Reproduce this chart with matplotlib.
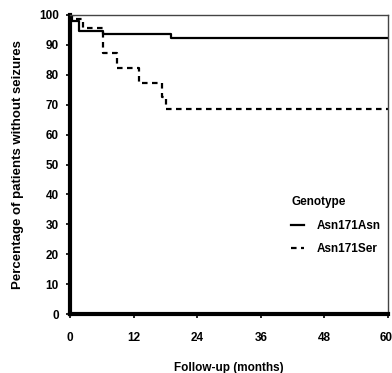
import matplotlib.pyplot as plt
import matplotlib.transforms as mtransforms
import numpy as np

plt.rcParams['font.family'] = ['Liberation Sans Narrow', 'Liberation Sans', 'DejaVu Sans']

# Kaplan-Meier style step data (months, % without seizures)
asn_t = [0, 0.4, 1.7, 6.2, 19.0, 60]
asn_pct = [100, 98.0, 94.6, 93.5, 92.2, 92.2]

ser_t = [0, 1.0, 2.5, 6.2, 8.9, 13.0, 17.3, 18.2, 60]
ser_pct = [100, 98.5, 95.8, 87.2, 82.4, 77.4, 72.7, 68.5, 68.5]

x_ticks = [0, 12, 24, 36, 48, 60]
y_ticks = list(range(0, 101, 10))

fig = plt.figure(figsize=(3.92, 3.73), dpi=100)
ax = fig.add_axes([0.1786, 0.158, 0.8112, 0.8018])

ax.step(asn_t, asn_pct, where="post", color="black", linewidth=1.6, label="Asn171Asn")
ax.step(ser_t, ser_pct, where="post", color="black", linewidth=1.6,
        linestyle=(0, (2.5, 2)), label="Asn171Ser")

ax.set_xlim(0, 60)
ax.set_ylim(0, 100)
ax.set_xticks(x_ticks)
ax.set_yticks(y_ticks)
ax.tick_params(axis="both", labelsize=8.5, length=3, width=1.2)
ax.tick_params(axis="x", pad=10)
ax.tick_params(axis="y", pad=5)
for lab in ax.get_xticklabels() + ax.get_yticklabels():
    lab.set_fontweight("bold")

# keep the last x label inside the figure, as in the original
last = ax.get_xticklabels()[-1]
last.set_ha("right")
last.set_transform(last.get_transform() +
                   mtransforms.ScaledTranslation(3 / 72, 0, fig.dpi_scale_trans))

for side in ["left", "bottom"]:
    ax.spines[side].set_linewidth(3)
for side in ["top", "right"]:
    ax.spines[side].set_linewidth(1.0)
    ax.spines[side].set_color("#444444")

ax.set_xlabel("Follow-up (months)", fontsize=8.5, fontweight="bold", labelpad=13)
ax.set_ylabel("Percentage of patients without seizures", fontsize=9.5,
              fontweight="bold")
ax.yaxis.set_label_coords(-0.145, 0.5)

leg = ax.legend(title="Genotype", loc="upper left", bbox_to_anchor=(0.695, 0.395),
                frameon=False, fontsize=8.5, title_fontsize=8.5,
                handlelength=1.1, labelspacing=0.9, handletextpad=1.1,
                borderpad=0, borderaxespad=0)
leg._legend_box.align = "left"
leg._legend_box.sep = 9
leg.get_title().set_fontweight("bold")
for t in leg.get_texts():
    t.set_fontweight("bold")

fig.savefig("out.png", dpi=100)
